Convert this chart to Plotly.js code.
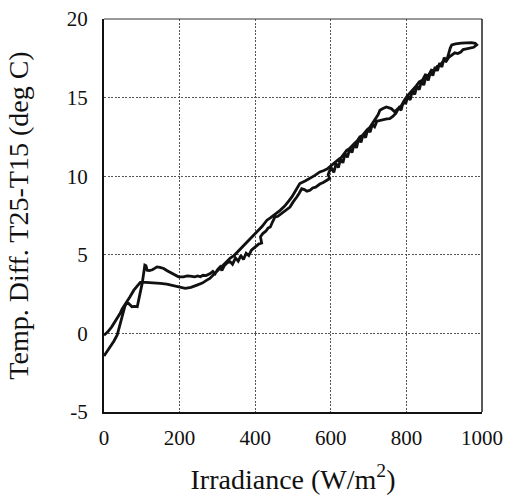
<!DOCTYPE html>
<html>
<head>
<meta charset="utf-8">
<script src="https://cdn.plot.ly/plotly-3.0.1.min.js"></script>
<style>
html,body{margin:0;padding:0;background:#fff;}
#chart{width:508px;height:495px;}
</style>
</head>
<body>
<div id="chart"></div>
<script>
// Rising leg (starts at -1.4 deg C) - irradiance (W/m2) and temperature difference (deg C)
var riseIrradiance = [
  0, 8, 17, 26, 35, 42, 48, 55, 61, 67,
  74, 81, 88, 95, 101, 106, 108, 111, 114, 120,
  128, 135, 140, 148, 158, 166, 173, 180, 188, 197,
  210, 220, 228, 240, 248, 255, 262, 270, 281, 288,
  294, 300, 307, 312, 318, 326, 334, 340, 348, 355,
  362, 369, 376, 383, 390, 395, 402, 410, 417, 414,
  420, 428, 434, 440, 446, 452, 460, 468, 476, 484,
  492, 500, 506, 510, 516, 523, 530, 537, 545, 552,
  560, 571, 580, 590, 597, 593, 596, 602, 608, 614,
  620, 626, 632, 638, 644, 650, 656, 662, 668, 674,
  680, 686, 692, 698, 704, 710, 716, 722, 730, 740,
  748, 756, 764, 772, 780, 786, 792, 798, 804, 810,
  816, 822, 828, 834, 840, 846, 852, 858, 864, 870,
  876, 882, 888, 894, 900, 906, 912, 916, 920, 930,
  945, 960, 972, 982, 986
];
var riseTempDiff = [
  -1.44, -1.15, -0.85, -0.5, -0.1, 0.5, 1.16, 1.7, 2.0, 1.85,
  1.7, 1.72, 1.7, 2.5, 3.18, 4.0, 4.34, 4.3, 4.02, 4.0,
  4.05, 4.15, 4.23, 4.2, 4.13, 4.0, 3.9, 3.81, 3.7, 3.6,
  3.6, 3.66, 3.64, 3.6, 3.65, 3.6, 3.7, 3.68, 3.81, 3.95,
  3.8, 4.05, 4.23, 4.0, 4.3, 4.5, 4.55, 4.4, 4.8, 4.6,
  4.95, 4.7, 5.1, 4.95, 5.3, 5.4, 5.55, 5.7, 5.75, 6.15,
  6.35, 6.5, 6.7, 6.77, 7.1, 7.4, 7.45, 7.6, 7.75, 7.9,
  8.04, 8.35, 8.6, 8.68, 8.9, 9.2, 9.15, 9.05, 9.1, 9.25,
  9.3, 9.5, 9.6, 9.75, 9.85, 10.1, 10.3, 10.5, 10.25, 10.8,
  10.55, 11.1, 10.85, 11.45, 11.2, 11.75, 11.5, 12.05, 11.8, 12.4,
  12.15, 12.7, 12.45, 13.0, 12.8, 13.3, 13.15, 13.5, 13.55, 13.6,
  13.65, 13.66, 13.8, 14.0, 14.35, 14.2, 14.75, 14.6, 15.1, 14.85,
  15.45, 15.2, 15.75, 15.5, 16.05, 15.8, 16.35, 16.1, 16.65, 16.4,
  16.95, 16.7, 17.2, 16.95, 17.55, 17.3, 17.9, 18.15, 18.35, 18.42,
  18.47, 18.5, 18.5, 18.45, 18.35
];
// Falling leg (ends at -0.1 deg C)
var fallIrradiance = [
  978, 966, 958, 950, 944, 936, 928, 920, 912, 905,
  898, 890, 882, 874, 866, 858, 850, 842, 834, 826,
  818, 810, 802, 795, 787, 780, 772, 769, 760, 747,
  738, 730, 725, 718, 710, 703, 696, 690, 684, 677,
  670, 663, 656, 649, 642, 635, 628, 620, 613, 606,
  598, 590, 580, 571, 558, 545, 532, 518, 508, 497,
  488, 478, 466, 452, 440, 431, 418, 404, 390, 378,
  369, 355, 344, 334, 320, 310, 299, 288, 280, 272,
  260, 246, 230, 215, 200, 184, 166, 149, 135, 123,
  110, 96, 88, 79, 68, 57, 48, 42, 30, 20,
  10, 0
];
var fallTempDiff = [
  18.2, 18.15, 18.1, 18.05, 17.9, 17.8, 17.85, 17.7, 17.55, 17.3,
  17.35, 17.05, 17.0, 16.7, 16.75, 16.4, 16.45, 16.1, 16.0, 15.75,
  15.55, 15.35, 15.1, 14.85, 14.5, 14.35, 14.15, 14.1, 14.3, 14.4,
  14.3, 14.2, 13.9, 13.65, 13.4, 13.1, 12.95, 12.75, 12.6, 12.5,
  12.25, 12.1, 11.9, 11.75, 11.65, 11.4, 11.2, 11.05, 10.9, 10.8,
  10.6, 10.45, 10.35, 10.27, 10.05, 9.85, 9.7, 9.53, 9.1, 8.68,
  8.4, 8.1, 7.83, 7.55, 7.35, 7.2, 6.8, 6.45, 6.1, 5.8,
  5.6, 5.2, 4.95, 4.79, 4.45, 4.2, 3.91, 3.65, 3.5, 3.39,
  3.2, 3.07, 2.93, 2.86, 2.95, 3.07, 3.14, 3.18, 3.22, 3.24,
  3.25, 3.24, 3.0, 2.75, 2.3, 1.9, 1.55, 1.25, 0.74, 0.4,
  0.1, -0.12
];
var xTickVals = [0, 200, 400, 600, 800, 1000];
var xTickText = ['0', '200', '400', '600', '800', '1000'];
var yTickVals = [-5, 0, 5, 10, 15, 20];
var yTickText = ['-5', '0', '5', '10', '15', '20'];

var serif = "'Liberation Serif', 'Times New Roman', Times, serif";

var trace = {
  x: riseIrradiance.concat(fallIrradiance),
  y: riseTempDiff.concat(fallTempDiff),
  type: 'scatter',
  mode: 'lines',
  line: {color: '#111111', width: 2.8},
  hoverinfo: 'skip'
};

var layout = {
  width: 508,
  height: 495,
  margin: {l: 103.5, r: 25.5, t: 18.5, b: 83},
  paper_bgcolor: '#ffffff',
  plot_bgcolor: '#ffffff',
  showlegend: false,
  font: {family: serif, color: '#111111', size: 21},
  xaxis: {
    range: [0, 1000],
    tickvals: xTickVals,
    ticktext: xTickText,
    ticks: '',
    showgrid: true,
    gridcolor: '#555555',
    gridwidth: 1,
    griddash: '2px,1.5px',
    zeroline: false,
    showline: true,
    linecolor: '#111111',
    linewidth: 2,
    ticklabelstandoff: 6,
    tickfont: {family: serif, size: 21, color: '#111111'},
    title: {text: 'Irradiance (W/m<sup>2</sup>)', font: {family: serif, size: 28, color: '#111111'}, standoff: 20},
    automargin: false
  },
  yaxis: {
    range: [-5, 20],
    tickvals: yTickVals,
    ticktext: yTickText,
    ticks: '',
    showgrid: true,
    gridcolor: '#555555',
    gridwidth: 1,
    griddash: '2px,1.5px',
    zeroline: false,
    showline: true,
    linecolor: '#111111',
    linewidth: 2,
    ticklabelstandoff: 10,
    tickfont: {family: serif, size: 21, color: '#111111'},
    title: {text: 'Temp. Diff. T25-T15 (deg C)', font: {family: serif, size: 28, color: '#111111'}, standoff: 30},
    automargin: false
  },
  shapes: [
    {type: 'line', xref: 'paper', yref: 'paper', x0: 0, x1: 1, y0: 1, y1: 1, line: {color: '#333333', width: 1}},
    {type: 'line', xref: 'paper', yref: 'paper', x0: 1, x1: 1, y0: 0, y1: 1, line: {color: '#222222', width: 1.5}}
  ]
};

Plotly.newPlot('chart', [trace], layout, {displayModeBar: false, staticPlot: true});
</script>
</body>
</html>
